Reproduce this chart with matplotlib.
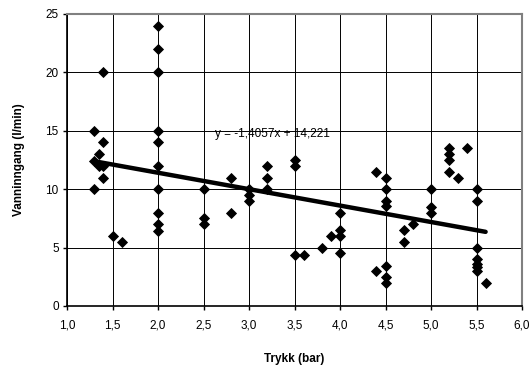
import matplotlib
matplotlib.use("Agg")
import matplotlib.pyplot as plt
import numpy as np
from matplotlib.ticker import FuncFormatter

plt.rcParams['font.family'] = ['Liberation Sans', 'DejaVu Sans']

# Data
pressure = [1.3, 1.3, 1.3,
            1.35, 1.35,
            1.4, 1.4, 1.4, 1.4,
            1.5, 1.6,
            2.0, 2.0, 2.0, 2.0, 2.0, 2.0, 2.0, 2.0, 2.0, 2.0,
            2.5, 2.5, 2.5,
            2.8, 2.8,
            3.0, 3.0, 3.0,
            3.2, 3.2, 3.2,
            3.5, 3.5, 3.5, 3.6,
            3.8, 3.9,
            4.0, 4.0, 4.0, 4.0,
            4.4, 4.4,
            4.5, 4.5, 4.5, 4.5, 4.5, 4.5, 4.5,
            4.7, 4.7, 4.8,
            5.0, 5.0, 5.0,
            5.2, 5.2, 5.2, 5.2, 5.3, 5.4,
            5.5, 5.5, 5.5, 5.5, 5.5, 5.5, 5.5, 5.6]
inflow = [15, 12.4, 10,
          13, 12,
          20, 14, 12, 11,
          6, 5.5,
          24, 22, 20, 15, 14, 12, 10, 8, 7, 6.4,
          10, 7.5, 7,
          11, 8,
          10, 9.5, 9,
          12, 11, 10,
          12.5, 12, 4.4, 4.4,
          5, 6,
          8, 6.5, 6, 4.5,
          11.5, 3,
          11, 10, 9, 8.6, 3.4, 2.5, 2,
          6.5, 5.5, 7,
          10, 8.5, 8,
          13.5, 13, 12.5, 11.5, 11, 13.5,
          10, 9, 5, 4, 3.6, 3.3, 3, 2]

trend_slope = -1.4057
trend_intercept = 14.221
trend_x = [min(pressure), max(pressure)]

x_ticks = [1.0, 1.5, 2.0, 2.5, 3.0, 3.5, 4.0, 4.5, 5.0, 5.5, 6.0]
y_ticks = [0, 5, 10, 15, 20, 25]

W, H = 529, 367
fig = plt.figure(figsize=(W/100, H/100), dpi=100)
ax = fig.add_axes([67/W, 1-306/H, (522-67)/W, (306-14)/H])

ax.set_xlim(1.0, 6.0)
ax.set_ylim(0, 25)
ax.set_xticks(x_ticks)
ax.set_yticks(y_ticks)
ax.xaxis.set_major_formatter(FuncFormatter(lambda v, p: f"{v:.1f}".replace('.', ',')))
ax.grid(True, color='black', linewidth=0.7)
ax.set_axisbelow(True)

ax.plot(pressure, inflow, linestyle='none', marker='D', markersize=5.2,
        markeredgewidth=0.6, color='black', zorder=3)
tx = np.array(trend_x)
ax.plot(tx, trend_slope * tx + trend_intercept, color='black', linewidth=3.2,
        solid_capstyle='round', zorder=4)
ax.text(2.63, 14.75, "y = -1,4057x + 14,221", fontsize=8.5, va='center', ha='left',
        zorder=5)

for s in ['top', 'right']:
    ax.spines[s].set_color('#808080')
    ax.spines[s].set_linewidth(1.5)
for s in ['left', 'bottom']:
    ax.spines[s].set_color('black')
    ax.spines[s].set_linewidth(1.2)

ax.tick_params(axis='both', labelsize=8.5, length=3, width=1, color='black', pad=3)
ax.tick_params(axis='x', pad=7)

ax.set_xlabel("Trykk (bar)", fontsize=8.5, fontweight='bold')
ax.set_ylabel("Vanninngang (l/min)", fontsize=8.5, fontweight='bold')
ax.xaxis.set_label_coords((294-67)/(522-67), -(359-306)/(306-14), transform=ax.transAxes)
ax.yaxis.set_label_coords(-(67-19)/(522-67), 0.5, transform=ax.transAxes)
ax.xaxis.label.set_va('center')
ax.yaxis.label.set_va('center')

fig.savefig("out.png", dpi=100)
